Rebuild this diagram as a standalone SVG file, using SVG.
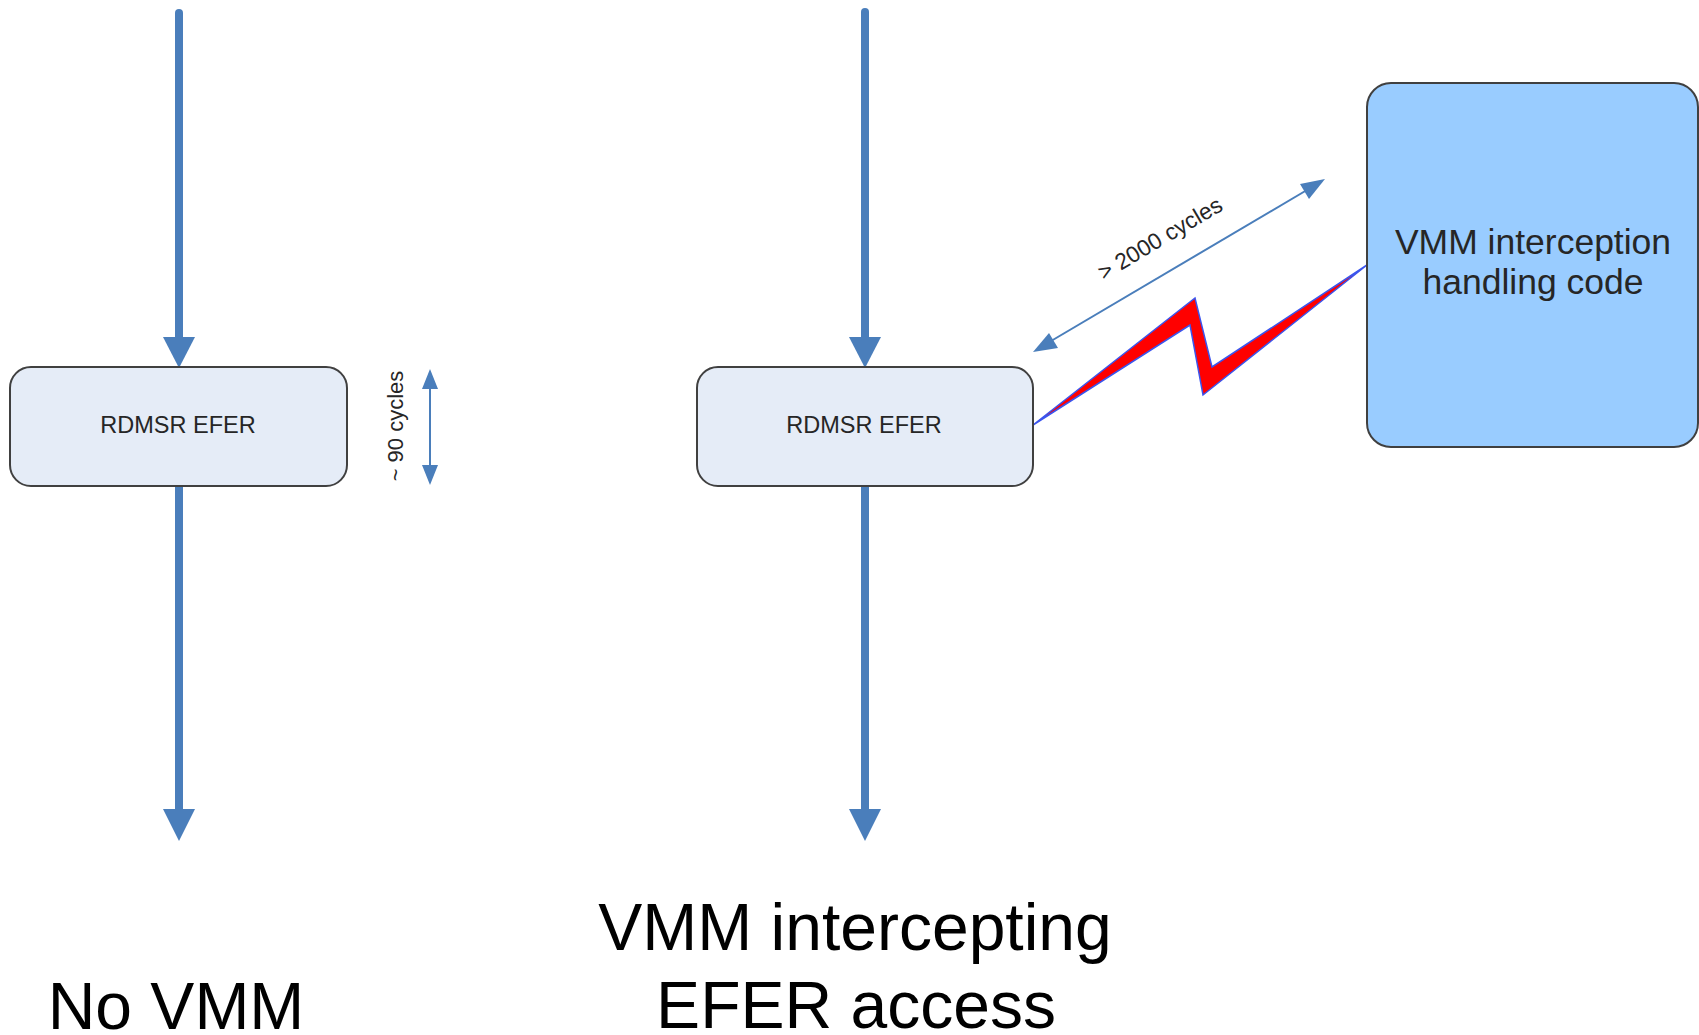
<svg xmlns="http://www.w3.org/2000/svg" width="1699" height="1035" viewBox="0 0 1699 1035">
<style>
.box{fill:#e5ecf7;stroke:#404040;stroke-width:2}
.vbox{fill:#99ccff;stroke:#404040;stroke-width:2}
.t{font-family:"Liberation Sans",Arial,sans-serif;fill:#262626;text-anchor:middle}
.big{font-family:"Liberation Sans",Arial,sans-serif;fill:#000;text-anchor:middle;font-size:66px}
.main{stroke:#4a7ebb;stroke-width:8;fill:none;stroke-linecap:round}
.thin{stroke:#4a7ebb;stroke-width:2;fill:none}
.head{fill:#4a7ebb}
</style>
<rect width="1699" height="1035" fill="#fff"/>
<g id="connectors">
  <line class="main" x1="179" y1="13" x2="179" y2="340"/>
  <polygon class="head" points="163,337 195,337 179,368"/>
  <line class="main" x1="179" y1="486" x2="179" y2="812" style="stroke-linecap:butt"/>
  <polygon class="head" points="163,809 195,809 179,841"/>
  <line class="main" x1="865" y1="12" x2="865" y2="340"/>
  <polygon class="head" points="849,337 881,337 865,368"/>
  <line class="main" x1="865" y1="486" x2="865" y2="812" style="stroke-linecap:butt"/>
  <polygon class="head" points="849,809 881,809 865,841"/>
  <g id="cycles90">
    <line class="thin" x1="430" y1="385" x2="430" y2="469"/>
    <polygon class="head" points="430,369 422,389 438,389"/>
    <polygon class="head" points="430,485 422,465 438,465"/>
  </g>
  <g id="cycles2000">
    <line class="thin" x1="1046" y1="344" x2="1312" y2="187"/>
    <polygon class="head" points="1033,352 1049,333 1058,348"/>
    <polygon class="head" points="1325,179 1300,184 1309,199"/>
  </g>
  <polygon id="bolt" points="1033,425 1195,298 1212,367 1367,265 1203,395 1190,325" fill="#ff0000" stroke="#3a55ee" stroke-width="1.5" stroke-linejoin="miter"/>
</g>
<g id="node-left">
  <rect class="box" x="10" y="367" width="337" height="119" rx="21"/>
  <text class="t" x="178" y="433" font-size="23.5">RDMSR EFER</text>
</g>
<g id="node-mid">
  <rect class="box" x="697" y="367" width="336" height="119" rx="21"/>
  <text class="t" x="864" y="433" font-size="23.5">RDMSR EFER</text>
</g>
<g id="node-vmm">
  <rect class="vbox" x="1367" y="83" width="331" height="364" rx="24"/>
  <text class="t" x="1533" y="254" font-size="35.5">VMM interception</text>
  <text class="t" x="1533" y="294" font-size="35.5">handling code</text>
</g>
<text class="t" x="403" y="426" font-size="22" transform="rotate(-90 403 426)">~ 90 cycles</text>
<text class="t" x="1164" y="245" font-size="22.8" transform="rotate(-30.6 1164 245)">&gt; 2000 cycles</text>
<text class="big" x="176" y="1029">No VMM</text>
<text class="big" x="855" y="950">VMM intercepting</text>
<text class="big" x="856" y="1028">EFER access</text>
</svg>
